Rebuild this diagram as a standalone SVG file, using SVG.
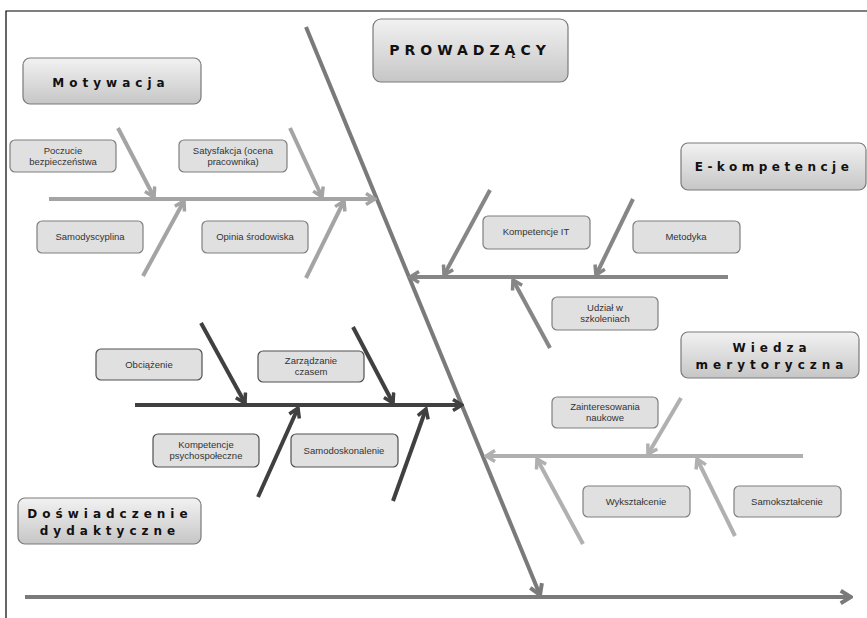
<svg xmlns="http://www.w3.org/2000/svg" width="867" height="618" viewBox="0 0 867 618">
<defs>
<linearGradient id="gb" x1="0" y1="0" x2="0" y2="1">
<stop offset="0" stop-color="#f2f2f2"/>
<stop offset="1" stop-color="#c6c6c6"/>
</linearGradient>
<marker id="mA" viewBox="0 0 14 14" refX="12" refY="7" markerWidth="14" markerHeight="14" markerUnits="userSpaceOnUse" orient="auto"><path d="M3,1.5 L12,7 L3,12.5" fill="none" stroke="#a4a4a4" stroke-width="3.5"/></marker>
<marker id="mB" viewBox="0 0 14 14" refX="12" refY="7" markerWidth="14" markerHeight="14" markerUnits="userSpaceOnUse" orient="auto"><path d="M3,1.5 L12,7 L3,12.5" fill="none" stroke="#868686" stroke-width="3.5"/></marker>
<marker id="mC" viewBox="0 0 14 14" refX="12" refY="7" markerWidth="14" markerHeight="14" markerUnits="userSpaceOnUse" orient="auto"><path d="M3,1.5 L12,7 L3,12.5" fill="none" stroke="#b0b0b0" stroke-width="3.5"/></marker>
<marker id="mD" viewBox="0 0 14 14" refX="12" refY="7" markerWidth="14" markerHeight="14" markerUnits="userSpaceOnUse" orient="auto"><path d="M3,1.5 L12,7 L3,12.5" fill="none" stroke="#404040" stroke-width="3.5"/></marker>
<marker id="mS" viewBox="0 0 14 14" refX="12" refY="7" markerWidth="16" markerHeight="16" markerUnits="userSpaceOnUse" orient="auto"><path d="M3,1.5 L12,7 L3,12.5" fill="none" stroke="#7a7a7a" stroke-width="3.5"/></marker>
</defs>
<style>
.big{fill:url(#gb);stroke:#7a7a7a;stroke-width:1.2}
.sm{fill:#e0e0e0;stroke:#7f7f7f;stroke-width:1.2}
.smd{fill:#e0e0e0;stroke:#505050;stroke-width:1.2}
.tb{font-family:"DejaVu Sans",sans-serif;font-weight:bold;fill:#111;text-anchor:middle}
.ts{font-family:"Liberation Sans",sans-serif;font-size:9.5px;fill:#333;text-anchor:middle}
.lA{stroke:#a4a4a4;stroke-width:4;fill:none}
.lB{stroke:#868686;stroke-width:4;fill:none}
.lC{stroke:#b0b0b0;stroke-width:4;fill:none}
.lD{stroke:#404040;stroke-width:4;fill:none}
.lS{stroke:#7a7a7a;stroke-width:4;fill:none}
</style>
<rect x="0" y="0" width="867" height="618" fill="#fff"/>
<path d="M6,618 V11 H867" fill="none" stroke="#000" stroke-width="1.2"/>

<g id="connectors">
<line class="lS" x1="25" y1="597" x2="851" y2="597" stroke-width="6" marker-end="url(#mS)"/>
<line class="lS" x1="306" y1="27" x2="540" y2="595" marker-end="url(#mS)"/>
<line class="lA" x1="49" y1="199" x2="375" y2="199" marker-end="url(#mA)"/>
<line class="lA" x1="118" y1="128" x2="154" y2="197" marker-end="url(#mA)"/>
<line class="lA" x1="290" y1="128" x2="322" y2="197" marker-end="url(#mA)"/>
<line class="lA" x1="143" y1="276" x2="184" y2="201" marker-end="url(#mA)"/>
<line class="lA" x1="306" y1="278" x2="344" y2="201" marker-end="url(#mA)"/>
<line class="lB" x1="728" y1="277" x2="410" y2="277" marker-end="url(#mB)"/>
<line class="lB" x1="490" y1="190" x2="444" y2="275" marker-end="url(#mB)"/>
<line class="lB" x1="633" y1="199" x2="596" y2="275" marker-end="url(#mB)"/>
<line class="lB" x1="550" y1="348" x2="513" y2="280" marker-end="url(#mB)"/>
<line class="lC" x1="803" y1="456" x2="486" y2="456" marker-end="url(#mC)"/>
<line class="lC" x1="681" y1="398" x2="648" y2="454" marker-end="url(#mC)"/>
<line class="lC" x1="583" y1="544" x2="537" y2="459" marker-end="url(#mC)"/>
<line class="lC" x1="735" y1="536" x2="697" y2="459" marker-end="url(#mC)"/>
<line class="lD" x1="135" y1="405" x2="462" y2="405" marker-end="url(#mD)"/>
<line class="lD" x1="201" y1="323" x2="245" y2="403" marker-end="url(#mD)"/>
<line class="lD" x1="353" y1="327" x2="393" y2="403" marker-end="url(#mD)"/>
<line class="lD" x1="258" y1="497" x2="298" y2="408" marker-end="url(#mD)"/>
<line class="lD" x1="393" y1="501" x2="426" y2="409" marker-end="url(#mD)"/>
</g>

<g id="prowadzacy"><rect class="big" x="373" y="19" width="195" height="63" rx="8"/><text class="tb" x="470" y="55" font-size="14" letter-spacing="5">PROWADZĄCY</text></g>
<g id="motywacja"><rect class="big" x="23" y="58" width="178" height="46" rx="7"/><text class="tb" x="111" y="87" font-size="12" letter-spacing="5">Motywacja</text></g>
<g id="ekompetencje"><rect class="big" x="681" y="143" width="185" height="47" rx="7"/><text class="tb" x="774" y="171" font-size="12" letter-spacing="4.5">E-kompetencje</text></g>
<g id="wiedza"><rect class="big" x="681" y="332" width="178" height="46" rx="7"/><text class="tb" x="772" y="352" font-size="12" letter-spacing="5">Wiedza</text><text class="tb" x="772" y="369" font-size="12" letter-spacing="5">merytoryczna</text></g>
<g id="doswiadczenie"><rect class="big" x="18" y="498" width="183" height="46" rx="7"/><text class="tb" x="110" y="518" font-size="12" letter-spacing="5">Doświadczenie</text><text class="tb" x="110" y="535" font-size="12" letter-spacing="5">dydaktyczne</text></g>

<g id="poczucie"><rect class="sm" x="10" y="140" width="106" height="32" rx="5"/><text class="ts" x="63" y="154">Poczucie</text><text class="ts" x="63" y="165">bezpieczeństwa</text></g>
<g id="satysfakcja"><rect class="sm" x="179" y="140" width="108" height="32" rx="5"/><text class="ts" x="233" y="154">Satysfakcja (ocena</text><text class="ts" x="233" y="165">pracownika)</text></g>
<g id="samodyscyplina"><rect class="sm" x="37" y="221" width="106" height="32" rx="5"/><text class="ts" x="90" y="240">Samodyscyplina</text></g>
<g id="opinia"><rect class="sm" x="202" y="221" width="106" height="32" rx="5"/><text class="ts" x="255" y="240">Opinia środowiska</text></g>
<g id="kompetencjeit"><rect class="sm" x="483" y="216" width="107" height="33" rx="5"/><text class="ts" x="536" y="235">Kompetencje IT</text></g>
<g id="metodyka"><rect class="sm" x="633" y="221" width="107" height="32" rx="5"/><text class="ts" x="686" y="240">Metodyka</text></g>
<g id="udzial"><rect class="sm" x="552" y="297" width="106" height="33" rx="5"/><text class="ts" x="605" y="311">Udział w</text><text class="ts" x="605" y="322">szkoleniach</text></g>
<g id="zainteresowania"><rect class="sm" x="552" y="397" width="106" height="31" rx="5"/><text class="ts" x="605" y="410">Zainteresowania</text><text class="ts" x="605" y="421">naukowe</text></g>
<g id="wyksztalcenie"><rect class="sm" x="583" y="486" width="107" height="31" rx="5"/><text class="ts" x="636" y="505">Wykształcenie</text></g>
<g id="samoksztalcenie"><rect class="sm" x="734" y="486" width="107" height="31" rx="5"/><text class="ts" x="787" y="505">Samokształcenie</text></g>
<g id="obciazenie"><rect class="smd" x="96" y="349" width="106" height="31" rx="5"/><text class="ts" x="149" y="368">Obciążenie</text></g>
<g id="zarzadzanie"><rect class="smd" x="258" y="351" width="106" height="31" rx="5"/><text class="ts" x="311" y="364">Zarządzanie</text><text class="ts" x="311" y="375">czasem</text></g>
<g id="psychospoleczne"><rect class="smd" x="153" y="434" width="106" height="33" rx="5"/><text class="ts" x="206" y="448">Kompetencje</text><text class="ts" x="206" y="459">psychospołeczne</text></g>
<g id="samodoskonalenie"><rect class="smd" x="291" y="434" width="107" height="33" rx="5"/><text class="ts" x="344" y="454">Samodoskonalenie</text></g>
</svg>
